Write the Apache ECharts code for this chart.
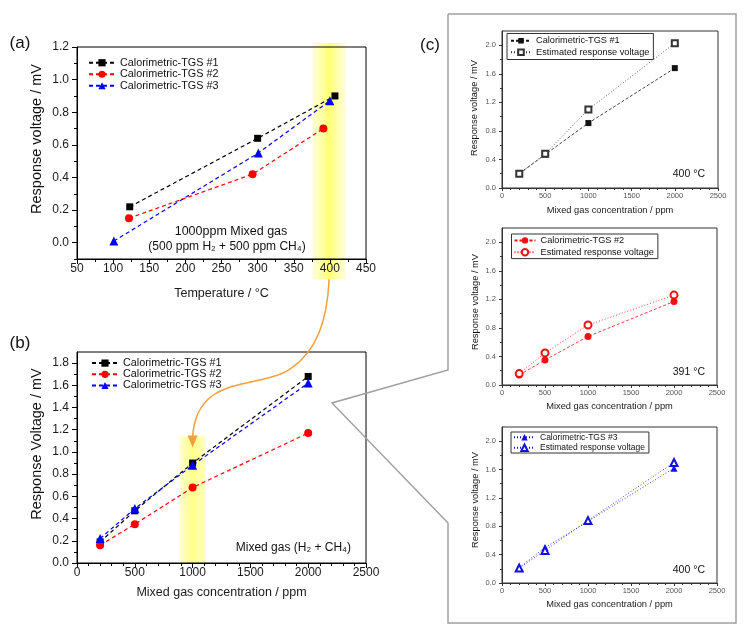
<!DOCTYPE html>
<html><head><meta charset="utf-8">
<script src="https://cdn.jsdelivr.net/npm/echarts@6/dist/echarts.min.js"></script>
<style>html,body{margin:0;padding:0;background:#fff}#c{width:751px;height:643px}</style>
</head><body><div id="c"></div>
<script>
const FONT = '"Liberation Sans", Arial, sans-serif';
// ---- panel (a): response vs temperature ----
const tempTGS1 = [123, 300, 407];
const voltTGS1 = [0.22, 0.64, 0.90];
const tempTGS2 = [122, 293, 391];
const voltTGS2 = [0.15, 0.42, 0.70];
const tempTGS3 = [101, 301, 400];
const voltTGS3 = [0.01, 0.55, 0.87];
// ---- panel (b): response vs concentration ----
const concentration = [200, 500, 1000, 2000];
const respTGS1 = [0.19, 0.47, 0.90, 1.68];
const respTGS2 = [0.16, 0.35, 0.68, 1.17];
const respTGS3 = [0.22, 0.49, 0.88, 1.62];
// ---- panel (c): measured vs estimated ----
const measTGS1 = [0.20, 0.47, 0.91, 1.68];
const estTGS1  = [0.20, 0.48, 1.10, 2.03];
const measTGS2 = [0.14, 0.35, 0.68, 1.17];
const estTGS2  = [0.16, 0.45, 0.84, 1.26];
const measTGS3 = [0.22, 0.50, 0.87, 1.62];
const estTGS3  = [0.21, 0.46, 0.88, 1.70];
// ---- tick values ----
const voltTicksA = [0, 0.2, 0.4, 0.6, 0.8, 1.0, 1.2];
const voltMinorA = [-0.1, 0.1, 0.3, 0.5, 0.7, 0.9, 1.1];
const voltTicksB = [0, 0.2, 0.4, 0.6, 0.8, 1.0, 1.2, 1.4, 1.6, 1.8];
const voltTicksC = [0, 0.4, 0.8, 1.2, 1.6, 2.0];
const legendText = {
  a1: 'Calorimetric-TGS #1', a2: 'Calorimetric-TGS #2', a3: 'Calorimetric-TGS #3',
  b1: 'Calorimetric-TGS #1', b2: 'Calorimetric-TGS #2', b3: 'Calorimetric-TGS #3',
  c1m: 'Calorimetric-TGS #1', c1e: 'Estimated response voltage',
  c2m: 'Calorimetric-TGS #2', c2e: 'Estimated response voltage',
  c3m: 'Calorimetric-TGS #3', c3e: 'Estimated response voltage'
};

const pairs = (xs, ys) => xs.map((x, i) => [x, ys[i]]);
const chart = echarts.init(document.getElementById('c'), null, {renderer: 'canvas', width: 751, height: 643});

function grid(left, top, width, height, border) {
  return {left, top, width, height, show: true, borderColor: border, borderWidth: 1, backgroundColor: 'transparent'};
}
const big = {line: '#000', label: '#1a1a1a', fs: 12, tick: 5, minor: 3, xm: 4, ym: 8};
const small = {line: '#333', label: '#555', fs: 7.5, tick: 3, minor: 2, xm: 4, ym: 6};

function xAx(gi, min, max, interval, minorSplit, st, name, nameGap, nameFs) {
  return {type: 'value', gridIndex: gi, min, max, interval, position: 'bottom',
    axisLine: {show: true, onZero: false, lineStyle: {color: st.line, width: 1}},
    axisTick: {show: true, inside: false, length: st.tick, lineStyle: {color: st.line, width: 1}},
    minorTick: {show: true, splitNumber: minorSplit, length: st.minor, lineStyle: {color: st.line, width: 1}},
    splitLine: {show: false}, minorSplitLine: {show: false},
    axisLabel: {color: st.label, fontSize: st.fs, fontFamily: FONT, margin: st.xm, formatter: v => String(v)},
    name, nameLocation: 'middle', nameGap,
    nameTextStyle: {fontFamily: FONT, fontSize: nameFs, color: '#1a1a1a'}};
}
function yAx(gi, min, max, interval, minorSplit, st, labels) {
  const o = {type: 'value', gridIndex: gi, min, max, position: 'left',
    axisLine: {show: true, onZero: false, lineStyle: {color: st.line, width: 1}},
    axisTick: {show: true, inside: false, length: st.tick, customValues: labels, lineStyle: {color: st.line, width: 1}},
    minorTick: {show: minorSplit > 0, splitNumber: minorSplit || 2, length: st.minor, lineStyle: {color: st.line, width: 1}},
    splitLine: {show: false}, minorSplitLine: {show: false},
    axisLabel: {color: st.label, fontSize: st.fs, fontFamily: FONT, margin: st.ym, customValues: labels,
      formatter: v => Number(v).toFixed(1)}};
  if (interval) o.interval = interval;
  return o;
}
function ser(name, xi, yi, data, color, symbol, size, dash, width, borderW) {
  return {type: 'line', name, xAxisIndex: xi, yAxisIndex: yi, data, symbol, symbolSize: size,
    showSymbol: true, animation: false, emphasis: {disabled: true},
    lineStyle: {color, width, type: dash},
    itemStyle: {color, borderWidth: borderW || 0}};
}
function legend(names, left, top, fs, lh, iw, ih, extra) {
  return Object.assign({show: true, data: names, left, top, orient: 'vertical',
    itemWidth: iw, itemHeight: ih, itemGap: 0, padding: 0, selectedMode: false,
    formatter: n => legendText[n],
    textStyle: {fontFamily: FONT, fontSize: fs, color: '#111', lineHeight: lh}}, extra || {});
}

const DASH = [4, 3];
const option = {
  animation: false,
  backgroundColor: '#fff',
  grid: [
    grid(77, 47, 289, 212, '#000'),
    grid(77, 352, 289, 211, '#000'),
    grid(502, 31, 216, 157, '#333'),
    grid(502, 228, 215, 157, '#333'),
    grid(502, 427, 215, 156, '#333')
  ],
  xAxis: [
    xAx(0, 50, 450, 50, 2, big, 'Temperature / °C', 28, 12.5),
    xAx(1, 0, 2500, 500, 5, big, 'Mixed gas concentration / ppm', 23.5, 12.5),
    xAx(2, 0, 2500, 500, 5, small, 'Mixed gas concentration / ppm', 18, 9.3),
    xAx(3, 0, 2500, 500, 5, small, 'Mixed gas concentration / ppm', 17, 9.3),
    xAx(4, 0, 2500, 500, 5, small, 'Mixed gas concentration / ppm', 17, 9.3)
  ],
  yAxis: [
    yAx(0, -0.1, 1.2, 0, 0, big, voltTicksA),
    {type: 'value', gridIndex: 0, min: -0.1, max: 1.2, position: 'left', offset: 0,
      axisLine: {show: false, onZero: false}, axisLabel: {show: false},
      splitLine: {show: false},
      axisTick: {show: true, inside: false, length: 3, customValues: voltMinorA, lineStyle: {color: '#000'}}},
    yAx(1, 0, 1.9, 0.2, 2, big, voltTicksB),
    yAx(2, 0, 2.2, 0.4, 2, small, voltTicksC),
    yAx(3, 0, 2.2, 0.4, 2, small, voltTicksC),
    yAx(4, 0, 2.2, 0.4, 2, small, voltTicksC)
  ],
  legend: [
    legend(['a1', 'a2', 'a3'], 88, 57, 10.8, 11.5, 26, 9),
    legend(['b1', 'b2', 'b3'], 91, 357.5, 10.8, 11.2, 26, 9),
    legend(['c1m', 'c1e'], 507, 33.5, 9.2, 11.5, 20, 7,
      {padding: [1.5, 4, 1.5, 3], borderColor: '#333', borderWidth: 1}),
    legend(['c2m', 'c2e'], 511.5, 234, 9.2, 11.8, 21, 8,
      {padding: [0.5, 4, 0.5, 2], borderColor: '#333', borderWidth: 1}),
    legend(['c3m', 'c3e'], 511, 432, 8.5, 10.5, 21, 8,
      {padding: [0, 4, 0, 2], borderColor: '#333', borderWidth: 1})
  ],
  series: [
    ser('a1', 0, 0, pairs(tempTGS1, voltTGS1), '#000', 'rect', 7, DASH, 1.2),
    ser('a2', 0, 0, pairs(tempTGS2, voltTGS2), '#ff0000', 'circle', 8, DASH, 1.2),
    ser('a3', 0, 0, pairs(tempTGS3, voltTGS3), '#0000ff', 'triangle', 9, DASH, 1.2),
    ser('b1', 1, 2, pairs(concentration, respTGS1), '#000', 'rect', 7, DASH, 1.2),
    ser('b2', 1, 2, pairs(concentration, respTGS2), '#ff0000', 'circle', 8, DASH, 1.2),
    ser('b3', 1, 2, pairs(concentration, respTGS3), '#0000ff', 'triangle', 9, DASH, 1.2),
    ser('c1m', 2, 3, pairs(concentration, measTGS1), '#111', 'rect', 6, [3, 2], 0.8),
    ser('c1e', 2, 3, pairs(concentration, estTGS1), '#333', 'emptyRect', 6, [1, 2], 0.8, 1),
    ser('c2m', 3, 4, pairs(concentration, measTGS2), '#ee1111', 'circle', 7, [3, 2], 0.8),
    ser('c2e', 3, 4, pairs(concentration, estTGS2), '#ee1111', 'emptyCircle', 7, [1, 2], 0.8, 1),
    ser('c3m', 4, 5, pairs(concentration, measTGS3), '#1111dd', 'triangle', 7, [1, 2], 0.8),
    ser('c3e', 4, 5, pairs(concentration, estTGS3), '#1111dd', 'emptyTriangle', 7, [1, 2], 0.8, 1)
  ]
};
chart.setOption(option);

const px = (xi, yi, v) => chart.convertToPixel({xAxisIndex: xi, yAxisIndex: yi}, v);
const bandA0 = px(0, 0, [376, 1.225]), bandA1 = px(0, 0, [422, -0.225]);
const bandB0 = px(1, 2, [893, 1.14]), bandB1 = px(1, 2, [1115, 0]);
const S = px(0, 0, [399, -0.225]);
const E = px(1, 2, [1000, 1.04]);
const txt = (x, y, text, fs, extra) => Object.assign({type: 'text', x, y, z: 50,
  style: Object.assign({text, fontSize: fs, fontFamily: FONT, fill: '#111', align: 'center', verticalAlign: 'middle'}, (extra && extra.style) || {})},
  extra && extra.rotation ? {rotation: extra.rotation} : {});
const orange = '#f2a03c';
const bez = (p0, c1, c2, p1) => ({type: 'bezierCurve', z: 40,
  shape: {x1: p0[0], y1: p0[1], cpx1: c1[0], cpy1: c1[1], cpx2: c2[0], cpy2: c2[1], x2: p1[0], y2: p1[1]},
  style: {stroke: orange, lineWidth: 1.5, fill: null}});
const m1 = [S[0] - 38, S[1] + 89];
const m2 = [E[0] + 20, E[1] - 52];
const tipBase = [E[0], E[1] - 10];

chart.setOption({graphic: [
  {type: 'rect', z: -10, shape: {x: bandA0[0], y: bandA0[1], width: bandA1[0] - bandA0[0], height: bandA1[1] - bandA0[1]},
    style: {fill: new echarts.graphic.LinearGradient(0, 0, 1, 0, [
      {offset: 0, color: 'rgba(255,252,205,0.75)'}, {offset: 0.3, color: 'rgba(255,255,140,0.8)'},
      {offset: 0.5, color: 'rgba(255,255,90,0.85)'}, {offset: 0.7, color: 'rgba(255,255,140,0.8)'},
      {offset: 1, color: 'rgba(255,252,205,0.75)'}])}},
  {type: 'rect', z: -10, shape: {x: bandB0[0], y: bandB0[1], width: bandB1[0] - bandB0[0], height: bandB1[1] - bandB0[1]},
    style: {fill: new echarts.graphic.LinearGradient(0, 0, 1, 0, [
      {offset: 0, color: 'rgba(255,255,185,0.8)'}, {offset: 0.5, color: 'rgba(255,255,125,0.9)'}, {offset: 1, color: 'rgba(255,255,185,0.8)'}])}},
  bez(S, [S[0] - 2, S[1] + 41], [S[0] - 12, S[1] + 71], m1),
  bez(m1, [S[0] - 60, S[1] + 104], [E[0] + 43, E[1] - 68], m2),
  bez(m2, [E[0] + 6, E[1] - 42], [E[0] + 1, E[1] - 28], tipBase),
  {type: 'polygon', z: 40, shape: {points: [[E[0] - 5, E[1] - 12], [E[0] + 5, E[1] - 12], [E[0], E[1]]]}, style: {fill: orange}},
  {type: 'polyline', z: 30, shape: {points: [[448, 14], [736, 14], [736, 623], [448, 623], [448, 523], [332, 403], [448, 370], [448, 14]]},
    style: {stroke: '#a0a0a0', lineWidth: 1.5, fill: null}},
  txt(20, 43, '(a)', 17),
  txt(20, 343, '(b)', 17),
  txt(430, 45, '(c)', 17),
  txt(37, 139, 'Response voltage / mV', 14.5, {rotation: Math.PI / 2}),
  txt(37, 444, 'Response Voltage / mV', 14.5, {rotation: Math.PI / 2}),
  txt(474, 108, 'Response voltage / mV', 9.3, {rotation: Math.PI / 2}),
  txt(475, 302, 'Response voltage / mV', 9.3, {rotation: Math.PI / 2}),
  txt(475, 500, 'Response voltage / mV', 9.3, {rotation: Math.PI / 2}),
  txt(231, 232, '1000ppm Mixed gas', 12.5),
  txt(227, 247, '(500 ppm H₂ + 500 ppm CH₄)', 12),
  txt(351, 548, 'Mixed gas (H₂ + CH₄)', 12, {style: {align: 'right'}}),
  txt(705, 174, '400 °C', 10.5, {style: {align: 'right'}}),
  txt(705, 372, '391 °C', 10.5, {style: {align: 'right'}}),
  txt(705, 570, '400 °C', 10.5, {style: {align: 'right'}})
]});
</script></body></html>
